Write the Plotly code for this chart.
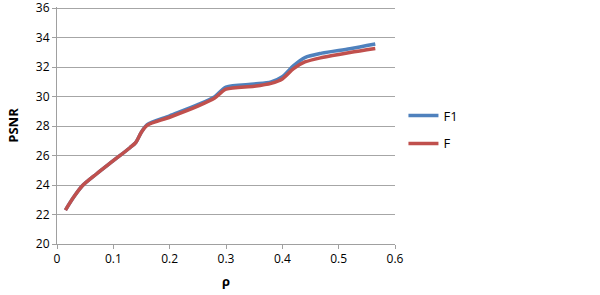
import plotly.graph_objects as go

rho_f = [0.015, 0.03, 0.045, 0.07, 0.1, 0.13, 0.14, 0.15, 0.16, 0.2, 0.25, 0.28, 0.30, 0.35, 0.38, 0.40, 0.42, 0.44, 0.47, 0.52, 0.565]
psnr_f = [22.3, 23.2, 23.95, 24.75, 25.65, 26.55, 26.9, 27.6, 28.05, 28.6, 29.35, 29.9, 30.5, 30.7, 30.9, 31.2, 31.9, 32.35, 32.65, 33.0, 33.27]

rho_f1 = [0.015, 0.03, 0.045, 0.07, 0.1, 0.13, 0.14, 0.15, 0.16, 0.2, 0.25, 0.28, 0.30, 0.35, 0.38, 0.40, 0.42, 0.44, 0.47, 0.52, 0.565]
psnr_f1 = [22.3, 23.2, 23.95, 24.75, 25.65, 26.55, 26.9, 27.6, 28.1, 28.7, 29.45, 30.0, 30.65, 30.85, 31.0, 31.35, 32.1, 32.65, 32.95, 33.25, 33.57]

x_ticks = [0, 0.1, 0.2, 0.3, 0.4, 0.5, 0.6]
y_ticks = [20, 22, 24, 26, 28, 30, 32, 34, 36]

font_family = "Open Sans, Liberation Sans, sans-serif"

fig = go.Figure()
fig.add_trace(go.Scatter(x=rho_f1, y=psnr_f1, mode="lines", name="F1", legendgroup="a",
                         line=dict(color="#4F81BD", width=3.5, shape="spline", smoothing=0.8)))
fig.add_trace(go.Scatter(x=rho_f, y=psnr_f, mode="lines", name="F", legendgroup="b",
                         line=dict(color="#C0504D", width=3.5, shape="spline", smoothing=0.8)))

fig.update_layout(
    width=600, height=295,
    margin=dict(l=57, r=205, t=7, b=51, autoexpand=False),
    paper_bgcolor="white", plot_bgcolor="white",
    font=dict(family=font_family, size=12, color="black"),
    showlegend=True,
    legend=dict(x=1.025, y=0.483, xanchor="left", yanchor="middle",
                font=dict(size=13), tracegroupgap=8, itemwidth=30,
                bgcolor="rgba(0,0,0,0)"),
    xaxis=dict(range=[0, 0.6], tickvals=x_ticks, ticktext=[str(v) if v else "0" for v in x_ticks],
               showgrid=False, showline=True, linecolor="#A0A0A0", linewidth=1,
               ticks="outside", ticklen=4, tickcolor="#A0A0A0", zeroline=False, automargin=False,
               title=dict(text="<b>ρ</b>", font=dict(size=13), standoff=10)),
    yaxis=dict(range=[20, 36.08], tickvals=y_ticks, showgrid=True, gridcolor="#A6A6A6", gridwidth=1,
               showline=True, linecolor="#A0A0A0", linewidth=1, ticklabeloverflow="allow",
               ticks="outside", ticklen=4, tickcolor="#A0A0A0", zeroline=False, automargin=False,
               title=dict(text="<b>PSNR</b>", font=dict(size=13), standoff=14)),
)

fig.write_html("out.html", post_script="document.body.style.margin='0';",
               config={"displayModeBar": False})
